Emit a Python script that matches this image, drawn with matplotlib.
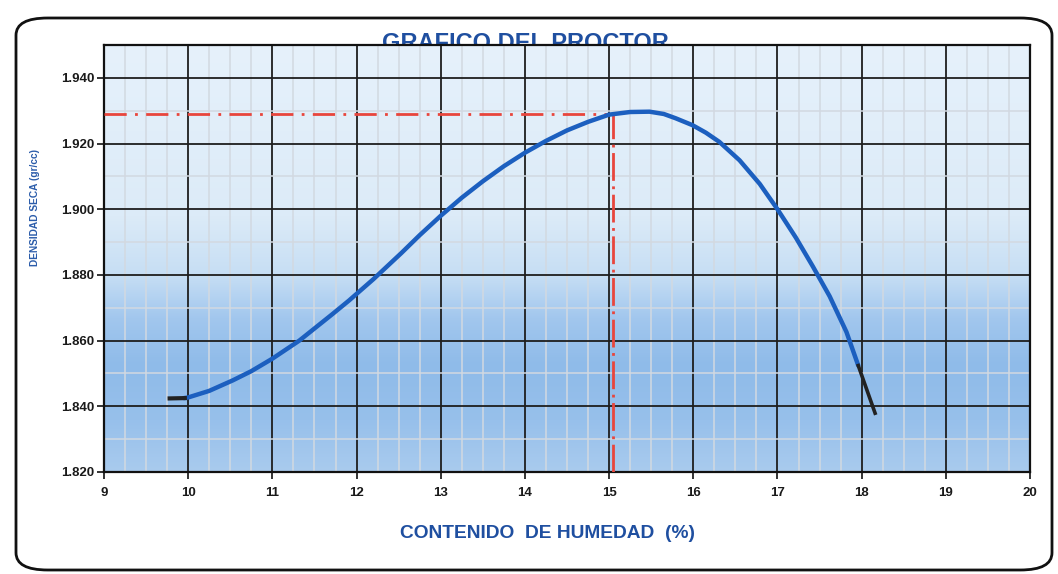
import matplotlib
matplotlib.use("Agg")
import matplotlib.pyplot as plt
import numpy as np
from matplotlib.colors import LinearSegmentedColormap
from matplotlib.patches import FancyBboxPatch

plt.rcParams['font.family'] = ['Liberation Sans', 'DejaVu Sans']

# ---- data ----
curve_x = [9.95, 10.0, 10.25, 10.53, 10.75, 11.0, 11.32, 11.71, 11.91, 12.2, 12.53,
           12.75, 13.0, 13.25, 13.5, 13.75, 14.0, 14.25, 14.5, 14.75, 15.0, 15.25,
           15.48, 15.65, 15.79, 15.99, 16.15, 16.31, 16.55, 16.79, 17.0, 17.22,
           17.42, 17.62, 17.82, 17.96]
curve_y = [1.8425, 1.8427, 1.8447, 1.8479, 1.8507, 1.8545, 1.8600, 1.8680, 1.8722,
           1.8787, 1.8866, 1.8921, 1.8980, 1.9035, 1.9085, 1.9131, 1.9172, 1.9208,
           1.9240, 1.9266, 1.9288, 1.9296, 1.9297, 1.9290, 1.9277, 1.9256, 1.9233,
           1.9205, 1.9149, 1.9077, 1.9000, 1.8913, 1.8826, 1.8735, 1.8626, 1.8524]
start_x = [9.78, 9.96]
start_y = [1.8424, 1.8425]
end_x = [17.96, 18.16]
end_y = [1.8524, 1.8379]
omc = 15.05      # optimum moisture content
mdd = 1.929      # maximum dry density

x_ticks = [9, 10, 11, 12, 13, 14, 15, 16, 17, 18, 19, 20]
y_ticks = [1.820, 1.840, 1.860, 1.880, 1.900, 1.920, 1.940]
y_tick_labels = ["1.820", "1.840", "1.860", "1.880", "1.900", "1.920", "1.940"]

title = "GRAFICO DEL PROCTOR"
xlabel = "CONTENIDO  DE HUMEDAD  (%)"
ylabel = "DENSIDAD SECA (gr/cc)"

W, H = 1058, 574
fig = plt.figure(figsize=(W / 100, H / 100), dpi=100)
fig.patch.set_facecolor('white')

# rounded frame
frame = FancyBboxPatch((16 / W, 1 - 570 / H), (1052 - 16) / W, (570 - 18) / H,
                       boxstyle="round,pad=0,rounding_size=0.03",
                       transform=fig.transFigure, fill=False,
                       edgecolor='#111111', linewidth=2.0, zorder=-5)
fig.patches.append(frame)

left, right, bottom, top = 104 / W, 1030 / W, 1 - 472 / H, 1 - 45 / H
ax = fig.add_axes([left, bottom, right - left, top - bottom])
ax.set_xlim(9, 20)
ax.set_ylim(1.82, 1.95)

# gradient background
cmap = LinearSegmentedColormap.from_list('bg', [
    (0.00, '#a9cbee'),
    (0.12, '#97c0eb'),
    (0.25, '#8fbbe9'),
    (0.36, '#a2c7ee'),
    (0.46, '#c6def4'),
    (0.60, '#dcebf8'),
    (1.00, '#e6f1fb'),
])
grad = np.linspace(0, 1, 256).reshape(-1, 1)
ax.imshow(grad, extent=[9, 20, 1.82, 1.95], origin='lower', aspect='auto',
          cmap=cmap, zorder=0, interpolation='bilinear')

ax.set_axisbelow(True)
ax.set_xticks(x_ticks)
ax.set_xticks(np.arange(9, 20.001, 0.25), minor=True)
ax.set_yticks(y_ticks)
ax.set_yticklabels(y_tick_labels)
ax.set_yticks(np.arange(1.82, 1.9501, 0.01), minor=True)
ax.grid(which='minor', color='#d2d9e1', linewidth=1.1)
ax.grid(which='major', color='#1e1e1e', linewidth=1.3)

for s in ax.spines.values():
    s.set_color('#111111')
    s.set_linewidth(1.6)

ax.tick_params(which='major', direction='out', length=5, width=1.2, color='#111111',
               labelsize=9.5, pad=2)
ax.tick_params(axis='x', which='major', pad=6)
ax.tick_params(which='minor', length=0)
for lab in ax.get_xticklabels() + ax.get_yticklabels():
    lab.set_fontweight('bold')
    lab.set_color('#1a1a1a')

# optimum reference lines
red = '#e8453c'
ax.plot([9, omc], [mdd, mdd], color=red, linewidth=2.0,
        dashes=(8, 3, 1, 3), zorder=3)
ax.plot([omc, omc], [1.82, mdd], color=red, linewidth=2.0,
        dashes=(10, 2, 1, 2), zorder=3)

# compaction curve
ax.plot(curve_x, curve_y, color='#1c5fbf', linewidth=3.2, solid_capstyle='round',
        solid_joinstyle='round', zorder=4)
ax.plot(start_x, start_y, color='#222222', linewidth=3.0, zorder=4)
ax.plot(end_x, end_y, color='#222222', linewidth=2.6, zorder=4)

# texts
fig.text(525 / W, 1 - 50 / H, title, ha='center', va='baseline', fontsize=17,
         fontweight='bold', color='#1f4fa0', zorder=-1)
fig.text(548 / W, 1 - 533 / H, xlabel, ha='center', va='center', fontsize=13.8,
         fontweight='bold', color='#1f4fa0')
fig.text(35 / W, 1 - 208 / H, ylabel, ha='center', va='center', rotation=90,
         fontsize=7.3, fontweight='bold', color='#2b5caa')

fig.savefig('out.png', dpi=100)
